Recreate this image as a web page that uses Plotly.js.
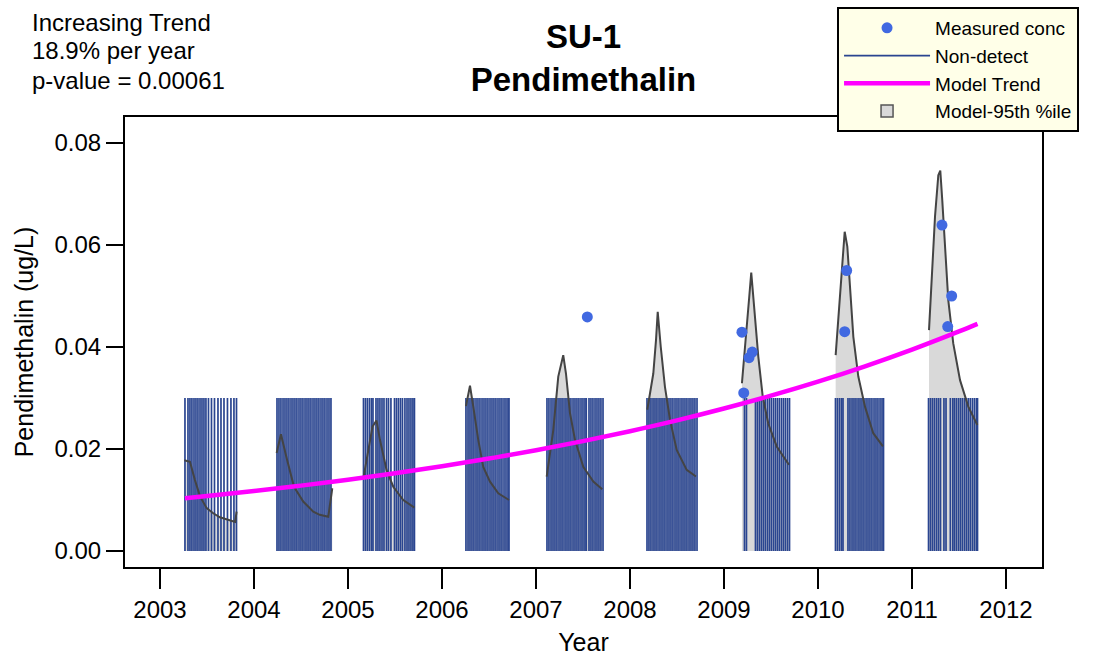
<!DOCTYPE html>
<html><head><meta charset="utf-8">
<script src="https://cdn.plot.ly/plotly-3.0.1.min.js"></script>
<style>html,body{margin:0;padding:0;background:#fff}#chart{width:1094px;height:656px}</style>
</head><body><div id="chart"></div>
<script>
// ---------------- data ----------------
const xTickVals = [2003, 2004, 2005, 2006, 2007, 2008, 2009, 2010, 2011, 2012];
const xTickText = ['2003', '2004', '2005', '2006', '2007', '2008', '2009', '2010', '2011', '2012'];
const yTickVals = [0, 0.02, 0.04, 0.06, 0.08];
const yTickText = ['0.00', '0.02', '0.04', '0.06', '0.08'];

// measured (detected) concentrations
const detectYears = [2007.546, 2009.191, 2009.210, 2009.266, 2009.301, 2010.284, 2010.305, 2011.319, 2011.380, 2011.422];
const detectConc  = [0.0459, 0.0429, 0.0310, 0.0379, 0.0390, 0.0430, 0.0550, 0.0639, 0.0440, 0.0500];

// non-detect sample dates (reporting limit shown as bar height)
const reportingLimit = 0.03;
const nonDetectYears = [
  2003.266, 2003.298, 2003.319, 2003.340, 2003.362, 2003.383, 2003.404, 2003.426, 2003.447, 2003.468, 2003.489,
  2003.516, 2003.548, 2003.580, 2003.617, 2003.649, 2003.681, 2003.718, 2003.755, 2003.787, 2003.814,
  2004.245, 2004.266, 2004.287, 2004.309, 2004.330, 2004.351, 2004.372, 2004.394, 2004.415, 2004.436,
  2004.457, 2004.479, 2004.500, 2004.521, 2004.543, 2004.564, 2004.585, 2004.606, 2004.628, 2004.649,
  2004.670, 2004.691, 2004.713, 2004.734, 2004.755, 2004.777, 2004.798, 2004.819,
  2005.165, 2005.186, 2005.207, 2005.229, 2005.250, 2005.266, 2005.298, 2005.319, 2005.340, 2005.362,
  2005.383, 2005.410, 2005.431, 2005.457, 2005.495, 2005.516, 2005.537, 2005.559, 2005.580, 2005.606,
  2005.628, 2005.649, 2005.670, 2005.691, 2005.707,
  2006.255, 2006.277, 2006.298, 2006.319, 2006.340, 2006.362, 2006.383, 2006.404, 2006.426, 2006.447,
  2006.468, 2006.489, 2006.511, 2006.532, 2006.553, 2006.574, 2006.596, 2006.617, 2006.638, 2006.660,
  2006.681, 2006.702, 2006.713,
  2007.117, 2007.138, 2007.160, 2007.181, 2007.202, 2007.223, 2007.245, 2007.266, 2007.287, 2007.309,
  2007.330, 2007.351, 2007.372, 2007.394, 2007.415, 2007.436, 2007.457, 2007.479, 2007.500, 2007.521,
  2007.535, 2007.564, 2007.585, 2007.606, 2007.628, 2007.649, 2007.670, 2007.691, 2007.713,
  2008.181, 2008.202, 2008.223, 2008.245, 2008.266, 2008.287, 2008.309, 2008.330, 2008.351, 2008.372,
  2008.394, 2008.415, 2008.436, 2008.457, 2008.479, 2008.500, 2008.521, 2008.543, 2008.564, 2008.585,
  2008.606, 2008.628, 2008.649, 2008.670, 2008.691, 2008.713,
  2009.218, 2009.239, 2009.335, 2009.356, 2009.378, 2009.399, 2009.420, 2009.441, 2009.463, 2009.484,
  2009.505, 2009.527, 2009.548, 2009.569, 2009.590, 2009.612, 2009.633, 2009.654, 2009.676, 2009.697,
  2010.186, 2010.207, 2010.229, 2010.250, 2010.266, 2010.319, 2010.340, 2010.362, 2010.383, 2010.404,
  2010.426, 2010.447, 2010.468, 2010.489, 2010.511, 2010.532, 2010.553, 2010.574, 2010.596, 2010.617,
  2010.638, 2010.660, 2010.681, 2010.697,
  2011.176, 2011.197, 2011.218, 2011.239, 2011.261, 2011.282, 2011.303, 2011.340, 2011.362, 2011.408,
  2011.434, 2011.452, 2011.473, 2011.495, 2011.516, 2011.537, 2011.559, 2011.580, 2011.601, 2011.622,
  2011.644, 2011.665, 2011.686, 2011.697
];

// model trend (magenta)
const trendYears = [2003.266, 2003.5, 2004.0, 2004.5, 2005.0, 2005.5, 2006.0, 2006.5, 2007.0, 2007.5,
                    2008.0, 2008.5, 2009.0, 2009.5, 2010.0, 2010.5, 2011.0, 2011.5, 2011.697];
const trendConc  = [0.01035, 0.01078, 0.01175, 0.01282, 0.01398, 0.01524, 0.01661, 0.01812, 0.01976, 0.02154,
                    0.02349, 0.02561, 0.02793, 0.03045, 0.03320, 0.03621, 0.03948, 0.04305, 0.04454];

// model 95th percentile, one curve per sampling season
const model95Years = [
  [2003.259, 2003.319, 2003.372, 2003.426, 2003.497, 2003.567, 2003.638, 2003.710, 2003.773, 2003.800, 2003.815],
  [2004.241, 2004.287, 2004.348, 2004.426, 2004.524, 2004.631, 2004.700, 2004.790, 2004.833],
  [2005.163, 2005.227, 2005.261, 2005.303, 2005.340, 2005.410, 2005.482, 2005.588, 2005.707],
  [2006.255, 2006.298, 2006.333, 2006.386, 2006.439, 2006.511, 2006.599, 2006.713],
  [2007.114, 2007.184, 2007.237, 2007.290, 2007.319, 2007.362, 2007.415, 2007.503, 2007.610, 2007.705],
  [2008.184, 2008.248, 2008.277, 2008.295, 2008.327, 2008.372, 2008.426, 2008.497, 2008.603, 2008.702],
  [2009.191, 2009.234, 2009.269, 2009.290, 2009.319, 2009.365, 2009.412, 2009.471, 2009.561, 2009.631, 2009.691],
  [2010.188, 2010.216, 2010.252, 2010.284, 2010.312, 2010.340, 2010.376, 2010.429, 2010.500, 2010.588, 2010.691],
  [2011.181, 2011.210, 2011.245, 2011.280, 2011.301, 2011.322, 2011.351, 2011.386, 2011.439, 2011.511, 2011.599, 2011.695]
];
const model95Conc = [
  [0.0178, 0.0175, 0.0139, 0.0107, 0.0084, 0.0074, 0.0066, 0.0062, 0.0058, 0.0057, 0.0077],
  [0.0192, 0.0229, 0.0182, 0.0126, 0.0097, 0.0077, 0.0071, 0.0067, 0.0123],
  [0.0142, 0.0211, 0.0244, 0.0256, 0.0218, 0.0159, 0.0126, 0.0100, 0.0085],
  [0.0284, 0.0324, 0.0283, 0.0218, 0.0165, 0.0136, 0.0113, 0.0100],
  [0.0146, 0.0237, 0.0342, 0.0384, 0.0348, 0.0270, 0.0218, 0.0165, 0.0136, 0.0121],
  [0.0277, 0.0348, 0.0414, 0.0469, 0.0401, 0.0322, 0.0257, 0.0198, 0.0159, 0.0146],
  [0.0329, 0.0414, 0.0499, 0.0546, 0.0479, 0.0381, 0.0303, 0.0250, 0.0205, 0.0185, 0.0169],
  [0.0384, 0.0459, 0.0558, 0.0626, 0.0597, 0.0512, 0.0420, 0.0342, 0.0283, 0.0231, 0.0205],
  [0.0433, 0.0525, 0.0656, 0.0737, 0.0746, 0.0688, 0.0590, 0.0492, 0.0407, 0.0335, 0.0283, 0.0247]
];

const annotLines = ['Increasing Trend', '18.9% per year', 'p-value = 0.00061'];

// ---------------- traces ----------------
const FONT = 'Liberation Sans, Arial, Helvetica, sans-serif';
const traces = [];

// gray fills (under the non-detect bars)
model95Years.forEach((xs, i) => {
  traces.push({
    x: xs, y: model95Conc[i], type: 'scatter', mode: 'lines',
    line: {width: 0, color: 'rgba(0,0,0,0)'}, fill: 'tozeroy', fillcolor: '#D9D9D9',
    showlegend: false, hoverinfo: 'skip'
  });
});

// non-detect vertical bars
const ndX = [], ndY = [];
nonDetectYears.forEach(t => { ndX.push(t, t, null); ndY.push(0, reportingLimit, null); });
traces.push({
  x: ndX, y: ndY, type: 'scatter', mode: 'lines', name: 'Non-detect',
  line: {color: '#2A4590', width: 1.7}, legendrank: 2, hoverinfo: 'skip'
});

// model 95th percentile outlines
model95Years.forEach((xs, i) => {
  traces.push({
    x: xs, y: model95Conc[i], type: 'scatter', mode: 'lines',
    line: {color: '#444444', width: 2}, showlegend: false, hoverinfo: 'skip'
  });
});

// trend
traces.push({
  x: trendYears, y: trendConc, type: 'scatter', mode: 'lines', name: 'Model Trend',
  line: {color: '#FF00FF', width: 4.5, shape: 'spline'}, legendrank: 3
});

// measured
traces.push({
  x: detectYears, y: detectConc, type: 'scatter', mode: 'markers', name: 'Measured conc',
  marker: {color: '#4169E1', size: 11}, legendrank: 1
});

// legend entry for model band
traces.push({
  x: [null], y: [null], type: 'scatter', mode: 'markers', name: 'Model-95th %ile',
  marker: {symbol: 'square', color: '#D9D9D9', size: 12, line: {color: '#555555', width: 1.5}},
  legendrank: 4
});

// ---------------- layout ----------------
const annotations = annotLines.map((txt, i) => ({
  text: txt, xref: 'paper', yref: 'paper',
  x: -0.1035, y: [1.2111, 1.1467, 1.0822][i], xanchor: 'left', yanchor: 'middle',
  showarrow: false, font: {size: 24, color: '#000', family: FONT}
}));

const layout = {
  width: 1094, height: 656,
  margin: {l: 125, r: 52, t: 117, b: 89, autoexpand: false},
  paper_bgcolor: '#ffffff', plot_bgcolor: '#ffffff',
  font: {family: FONT, color: '#000'},
  showlegend: true,
  hovermode: false,
  title: {
    text: '<b>SU-1</b><br><b>Pendimethalin</b>',
    font: {size: 33, color: '#000', family: FONT},
    x: 0.5, xref: 'paper', xanchor: 'center',
    y: 0.9261, yref: 'container', yanchor: 'middle'
  },
  xaxis: {
    range: [2002.628, 2012.383], tickvals: xTickVals, ticktext: xTickText,
    ticks: 'outside', ticklen: 20, tickwidth: 1.5, tickcolor: '#000',
    showline: true, linecolor: '#000', linewidth: 2, mirror: true,
    showgrid: false, zeroline: false,
    tickfont: {size: 24, family: FONT},
    title: {text: 'Year', font: {size: 25, family: FONT}, standoff: 12}
  },
  yaxis: {
    range: [-0.00314, 0.0851], tickvals: yTickVals, ticktext: yTickText,
    ticks: 'outside', ticklen: 17, tickwidth: 1.5, tickcolor: '#000',
    showline: true, linecolor: '#000', linewidth: 2, mirror: true,
    showgrid: false, zeroline: false,
    tickfont: {size: 24, family: FONT},
    title: {text: 'Pendimethalin (ug/L)', font: {size: 25, family: FONT}, standoff: 14}
  },
  legend: {
    x: 0.7765, y: 1.2444, xanchor: 'left', yanchor: 'top',
    bgcolor: '#FFFFE8', bordercolor: '#000', borderwidth: 2,
    font: {size: 19, family: FONT, color: '#000'},
    itemwidth: 86, tracegroupgap: 0, traceorder: 'normal'
  },
  annotations: annotations
};

Plotly.newPlot('chart', traces, layout, {displayModeBar: false, staticPlot: true});
</script></body></html>
